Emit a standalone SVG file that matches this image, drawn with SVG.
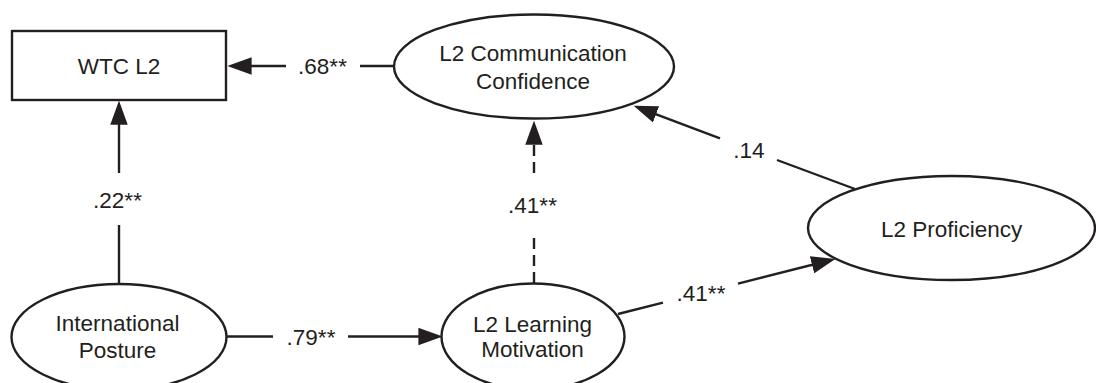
<svg xmlns="http://www.w3.org/2000/svg" width="1096" height="383" viewBox="0 0 1096 383">
  <style>
    .shape { fill: #ffffff; stroke: #231f20; stroke-width: 2.4; }
    .edge { fill: none; stroke: #231f20; stroke-width: 2.4; }
    .dash { stroke-dasharray: 11 6; }
    text { font-family: "Liberation Sans", Arial, Helvetica, sans-serif; font-size: 22.5px; fill: #231f20; text-anchor: middle; }
  </style>
  <defs>
    <marker id="arrow" markerUnits="userSpaceOnUse" markerWidth="24" markerHeight="18" viewBox="0 0 22 16" refX="18" refY="8" orient="auto">
      <path d="M0,0 L22,8 L0,16 z" fill="#231f20"/>
    </marker>
  </defs>

  <!-- path coefficients -->
  <g id="connectors">
    <!-- Communication Confidence -> WTC L2 -->
    <line class="edge" x1="394" y1="66" x2="360" y2="66"/>
    <text x="322.5" y="74">.68**</text>
    <line class="edge" x1="286" y1="66" x2="232" y2="66" marker-end="url(#arrow)"/>

    <!-- International Posture -> WTC L2 -->
    <line class="edge" x1="119" y1="284" x2="119" y2="225"/>
    <text x="117.5" y="208">.22**</text>
    <line class="edge" x1="119" y1="173" x2="119" y2="105" marker-end="url(#arrow)"/>

    <!-- International Posture -> Learning Motivation -->
    <line class="edge" x1="226" y1="336.5" x2="273" y2="336.5"/>
    <text x="311" y="345">.79**</text>
    <line class="edge" x1="348" y1="336.5" x2="438" y2="336.5" marker-end="url(#arrow)"/>

    <!-- Learning Motivation -> Communication Confidence (dashed) -->
    <line class="edge dash" x1="534" y1="283" x2="534" y2="235"/>
    <text x="532.5" y="213">.41**</text>
    <line class="edge dash" x1="534" y1="173" x2="534" y2="125" marker-end="url(#arrow)"/>

    <!-- Proficiency -> Communication Confidence -->
    <line class="edge" x1="855" y1="189" x2="777" y2="160"/>
    <text x="749" y="158">.14</text>
    <line class="edge" x1="720" y1="138.3" x2="637.7" y2="107.4" marker-end="url(#arrow)"/>

    <!-- Learning Motivation -> Proficiency -->
    <line class="edge" x1="618" y1="314" x2="663" y2="302.6"/>
    <text x="701" y="300.7">.41**</text>
    <line class="edge" x1="738" y1="283.6" x2="831.1" y2="260" marker-end="url(#arrow)"/>
  </g>

  <g id="wtc-l2">
    <rect class="shape" x="12" y="31" width="214" height="69"/>
    <text x="119" y="74">WTC L2</text>
  </g>

  <g id="communication-confidence">
    <ellipse class="shape" cx="534" cy="66.5" rx="140" ry="52"/>
    <text x="533" y="61">L2 Communication</text>
    <text x="533" y="88.7">Confidence</text>
  </g>

  <g id="proficiency">
    <ellipse class="shape" cx="951.5" cy="228" rx="143.5" ry="52"/>
    <text x="951.7" y="236.7">L2 Proficiency</text>
  </g>

  <g id="international-posture">
    <ellipse class="shape" cx="119" cy="337" rx="107.5" ry="53"/>
    <text x="117.5" y="330.7">International</text>
    <text x="117.5" y="358">Posture</text>
  </g>

  <g id="learning-motivation">
    <ellipse class="shape" cx="533" cy="336.5" rx="91.5" ry="53"/>
    <text x="532.5" y="331.7">L2 Learning</text>
    <text x="532.5" y="356.7">Motivation</text>
  </g>
</svg>
